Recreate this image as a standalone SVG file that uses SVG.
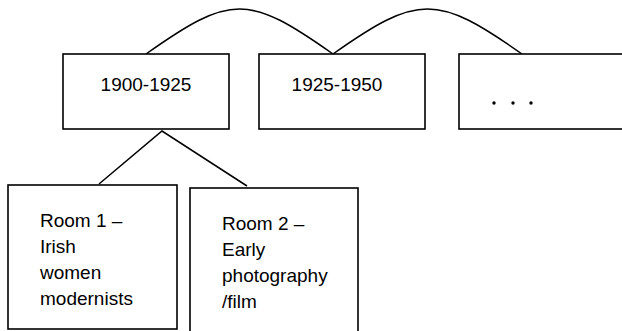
<svg xmlns="http://www.w3.org/2000/svg" width="622" height="331" viewBox="0 0 622 331">
<style>
.box{fill:#fff;stroke:#000;stroke-width:1.6}
.con{fill:none;stroke:#000;stroke-width:1.5}
.t{font-family:"Liberation Sans",Arial,sans-serif;font-size:19px;fill:#000}
</style>
<rect width="622" height="331" fill="#fff"/>
<g id="connectors">
<path class="con" d="M146,54 C231,-6 248,-6 333,54"/>
<path class="con" d="M333,54 C418,-6 437,-6 522,54"/>
<path class="con" d="M99,184 L162,131 L247,186"/>
</g>
<g id="node-1900">
<rect class="box" x="63" y="54" width="166" height="75"/>
<text class="t" x="146" y="91" text-anchor="middle">1900-1925</text>
</g>
<g id="node-1925">
<rect class="box" x="259" y="54" width="166" height="75"/>
<text class="t" x="337" y="91" text-anchor="middle">1925-1950</text>
</g>
<g id="node-more">
<rect class="box" x="459" y="54" width="180" height="75"/>
<circle cx="494" cy="103" r="1.7"/>
<circle cx="513" cy="103" r="1.7"/>
<circle cx="531" cy="103" r="1.7"/>
</g>
<g id="node-room1">
<rect class="box" x="8" y="185" width="169" height="144"/>
<text class="t" x="40" y="227">Room 1 –</text>
<text class="t" x="40" y="253">Irish</text>
<text class="t" x="40" y="279">women</text>
<text class="t" x="40" y="305">modernists</text>
</g>
<g id="node-room2">
<rect class="box" x="190" y="188" width="168" height="160"/>
<text class="t" x="222" y="230">Room 2 –</text>
<text class="t" x="222" y="256">Early</text>
<text class="t" x="222" y="282">photography</text>
<text class="t" x="222" y="308">/film</text>
</g>
</svg>
